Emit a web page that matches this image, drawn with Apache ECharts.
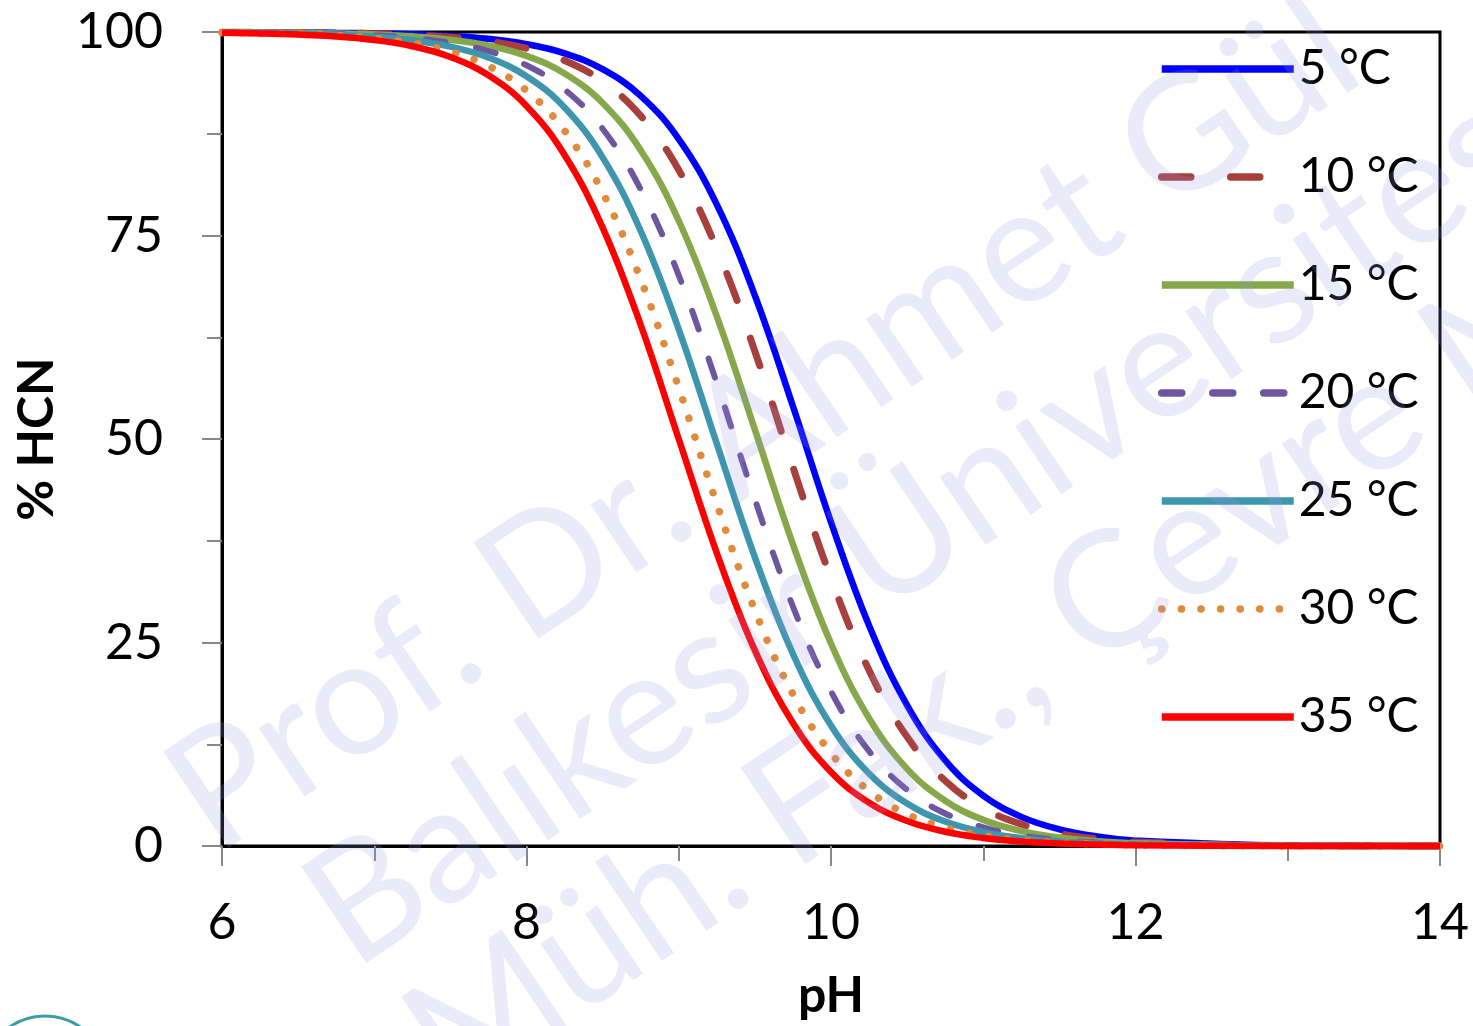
<!DOCTYPE html>
<html>
<head>
<meta charset="utf-8">
<title>% HCN vs pH</title>
<script src="https://cdn.jsdelivr.net/npm/echarts@6/dist/echarts.min.js"></script>
<style>
  html, body { margin: 0; padding: 0; background: #ffffff; }
  #chart { width: 1473px; height: 1026px; }
</style>
</head>
<body>
<div id="chart"></div>
<script>
  // pH points
  let phValues = [6, 6.25, 6.5, 6.75, 7, 7.25, 7.5, 7.75, 8, 8.25, 8.5, 8.75, 9, 9.25, 9.5, 9.75,
    10, 10.25, 10.5, 10.75, 11, 11.25, 11.5, 11.75, 12, 13, 14];

  // % HCN for each temperature
  let hcn5 = [99.98, 99.97, 99.95, 99.9, 99.85, 99.73, 99.52, 99.16, 98.51, 97.38, 95.43, 92.16, 86.85, 78.79, 67.63, 54.02,
    39.78, 27.09, 17.28, 10.51, 6.2, 3.58, 2.05, 1.16, 0.66, 0.07, 0.01];
  let hcn10 = [99.98, 99.96, 99.94, 99.89, 99.8, 99.64, 99.36, 98.86, 98.0, 96.5, 93.93, 89.7, 83.04, 73.36, 60.77, 46.55,
    32.88, 21.59, 13.41, 8.01, 4.67, 2.68, 1.53, 0.86, 0.49, 0.05, 0.01];
  let hcn15 = [99.97, 99.95, 99.9, 99.83, 99.7, 99.47, 99.05, 98.33, 97.07, 94.9, 91.28, 85.48, 76.81, 65.06, 51.15, 37.06,
    24.88, 15.7, 9.48, 5.56, 3.21, 1.83, 1.04, 0.59, 0.33, 0.03, 0];
  let hcn20 = [99.96, 99.92, 99.87, 99.76, 99.58, 99.25, 98.67, 97.66, 95.91, 92.95, 88.11, 80.65, 70.1, 56.86, 42.57, 29.42,
    18.99, 11.65, 6.9, 4.0, 2.29, 1.3, 0.74, 0.42, 0.23, 0.02, 0];
  let hcn25 = [99.94, 99.9, 99.82, 99.68, 99.43, 98.99, 98.21, 96.87, 94.56, 90.72, 84.6, 75.55, 63.47, 49.42, 35.47, 23.61,
    14.81, 8.9, 5.21, 3.0, 1.71, 0.97, 0.55, 0.31, 0.17, 0.02, 0];
  let hcn30 = [99.92, 99.86, 99.76, 99.57, 99.23, 98.64, 97.6, 95.82, 92.8, 87.87, 80.29, 69.61, 56.3, 42.01, 28.95, 18.64,
    11.41, 6.76, 3.91, 2.24, 1.27, 0.72, 0.41, 0.23, 0.13, 0.01, 0];
  let hcn35 = [99.9, 99.82, 99.68, 99.44, 99.01, 98.25, 96.93, 94.68, 90.91, 84.9, 75.97, 64.01, 50, 35.99, 24.03, 15.1,
    9.09, 5.32, 3.07, 1.75, 0.99, 0.56, 0.32, 0.18, 0.1, 0.01, 0];

  let seriesNames = ['5 °C', '10 °C', '15 °C', '20 °C', '25 °C', '30 °C', '35 °C'];
  let seriesValues = [hcn5, hcn10, hcn15, hcn20, hcn25, hcn30, hcn35];

  let xTicks = [6, 8, 10, 12, 14];
  let yTicks = [0, 25, 50, 75, 100];

  let fontName = 'Lato';

  let lineStyles = [
    {color: '#0000FF', width: 6.5, type: 'solid'},
    {color: '#A7403C', width: 7, type: [29, 40], cap: 'round'},
    {color: '#86A84A', width: 6.5, type: 'solid'},
    {color: '#6E55A0', width: 6, type: [20, 31], cap: 'round'},
    {color: '#3E96AE', width: 6.5, type: 'solid'},
    {color: '#E08A3C', width: 7.5, type: [0.1, 19.5], cap: 'round'},
    {color: '#FF0000', width: 6.5, type: 'solid'}
  ];

  let seriesResult = [];
  for (let i = 0; i < seriesNames.length; i++) {
    let values = seriesValues[i];
    let points = [];
    for (let j = 0; j < phValues.length; j++) {
      points.push([phValues[j], values[j]]);
    }
    seriesResult.push({
      name: seriesNames[i],
      type: 'line',
      smooth: 0.4,
      symbol: 'none',
      showSymbol: false,
      clip: false,
      lineStyle: lineStyles[i],
      itemStyle: {color: lineStyles[i].color},
      data: points
    });
  }

  // watermark text
  let markStyle = {
    fill: 'rgba(150, 150, 225, 0.2)',
    fontFamily: 'Lato',
    fontSize: 162,
    align: 'left',
    verticalAlign: 'bottom'
  };
  let rot = 34 * Math.PI / 180;

  let chart = echarts.init(document.getElementById('chart'));
  let options = {
    backgroundColor: '#ffffff',
    animation: false,
    grid: {
      left: 222,
      right: 33,
      top: 32,
      bottom: 180,
      show: true,
      borderColor: '#000000',
      borderWidth: 3
    },
    legend: {
      orient: 'vertical',
      left: 1153,
      top: 40,
      itemWidth: 132,
      itemHeight: 40,
      itemGap: 60,
      data: seriesNames,
      itemStyle: {opacity: 0},
      lineStyle: {width: 7.5},
      textStyle: {
        fontFamily: fontName,
        fontSize: 48,
        color: '#000000'
      }
    },
    xAxis: {
      type: 'value',
      min: 6,
      max: 14,
      interval: 2,
      name: 'pH',
      nameLocation: 'middle',
      nameGap: 125,
      nameTextStyle: {fontFamily: fontName, fontSize: 50, fontWeight: 'bold', color: '#000000'},
      axisLine: {onZero: false, lineStyle: {color: '#000000', width: 3}},
      axisTick: {show: true, length: 20, lineStyle: {color: '#888888', width: 2}},
      minorTick: {show: true, splitNumber: 2, length: 15, lineStyle: {color: '#888888', width: 2}},
      splitLine: {show: false},
      axisLabel: {
        margin: 52,
        fontFamily: fontName,
        fontSize: 50,
        color: '#000000',
        formatter: function (v) {
          return xTicks.indexOf(v) >= 0 ? String(v) : '';
        }
      }
    },
    yAxis: {
      type: 'value',
      min: 0,
      max: 100,
      interval: 25,
      name: '% HCN',
      nameLocation: 'middle',
      nameGap: 160,
      nameTextStyle: {fontFamily: fontName, fontSize: 50, fontWeight: 'bold', color: '#000000'},
      axisLine: {show: true, lineStyle: {color: '#000000', width: 3}},
      axisTick: {show: true, length: 20, lineStyle: {color: '#888888', width: 2}},
      minorTick: {show: true, splitNumber: 2, length: 15, lineStyle: {color: '#888888', width: 2}},
      splitLine: {show: false},
      axisLabel: {
        margin: 59,
        fontFamily: fontName,
        fontSize: 50,
        color: '#000000',
        formatter: function (v) {
          return yTicks.indexOf(v) >= 0 ? String(v) : '';
        }
      }
    },
    graphic: [
      {type: 'text', x: 232, y: 880, rotation: rot, z: 100, silent: true,
        style: Object.assign({text: 'Prof. Dr. Ahmet Gül'}, markStyle)},
      {type: 'text', x: 370, y: 995, rotation: rot, z: 100, silent: true,
        style: Object.assign({text: 'Balıkesir Üniversitesi'}, markStyle)},
      {type: 'text', x: 470, y: 1125, rotation: rot, z: 100, silent: true,
        style: Object.assign({text: 'Müh. Fak., Çevre Müh.'}, markStyle)},
      {type: 'circle', shape: {cx: 45, cy: 1078, r: 62}, z: 100, silent: true,
        style: {fill: 'none', stroke: '#3A9CA8', lineWidth: 3}}
    ],
    series: seriesResult
  };

  chart.setOption(options);
</script>
</body>
</html>
